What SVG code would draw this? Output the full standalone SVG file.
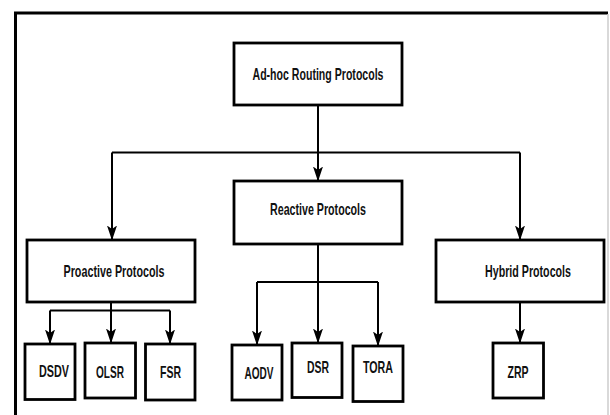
<svg xmlns="http://www.w3.org/2000/svg" width="610" height="415" viewBox="0 0 610 415">
<style>
.box{fill:#fff;stroke:#000;stroke-width:2.8}
.t{font-family:"Liberation Sans",Arial,sans-serif;font-weight:bold;font-size:16.5px;fill:#111;text-anchor:middle}
.c{fill:none;stroke:#000;stroke-width:2}
</style>
<defs>
<marker id="ah" markerWidth="15" markerHeight="11" refX="14.5" refY="5.5" orient="auto" markerUnits="userSpaceOnUse" viewBox="0 0 15 11">
<path d="M0,0.5 L15,5.5 L0,10.5 L3.5,5.5 Z" fill="#000"/>
</marker>
</defs>
<rect x="0" y="0" width="610" height="415" fill="#fff"/>
<path d="M15.5,415 V13 H608" fill="none" stroke="#000" stroke-width="3"/>
<line x1="608" y1="14" x2="608" y2="415" stroke="#ccc" stroke-width="1.5"/>
<g id="connectors">
<path class="c" d="M318,105 V152.5"/>
<path class="c" d="M112,152.5 H520"/>
<path class="c" d="M112,152.5 V240" marker-end="url(#ah)"/>
<path class="c" d="M318,152.5 V181" marker-end="url(#ah)"/>
<path class="c" d="M520,152.5 V240" marker-end="url(#ah)"/>
<path class="c" d="M111,302 V310.5"/>
<path class="c" d="M50,310.5 H170"/>
<path class="c" d="M50,310.5 V344" marker-end="url(#ah)"/>
<path class="c" d="M111,310.5 V343" marker-end="url(#ah)"/>
<path class="c" d="M170,310.5 V344" marker-end="url(#ah)"/>
<path class="c" d="M318,244 V282"/>
<path class="c" d="M257,282 H378"/>
<path class="c" d="M257,282 V345" marker-end="url(#ah)"/>
<path class="c" d="M318,282 V343" marker-end="url(#ah)"/>
<path class="c" d="M378,282 V346" marker-end="url(#ah)"/>
<path class="c" d="M520,302 V343" marker-end="url(#ah)"/>
</g>
<g id="adhoc"><rect class="box" x="234" y="43" width="168" height="62"/><text class="t" x="318" y="80" textLength="131" lengthAdjust="spacingAndGlyphs">Ad-hoc Routing Protocols</text></g>
<g id="reactive"><rect class="box" x="234" y="181" width="168" height="63"/><text class="t" x="318" y="215" textLength="96" lengthAdjust="spacingAndGlyphs">Reactive Protocols</text></g>
<g id="proactive"><rect class="box" x="27" y="240" width="168" height="62"/><text class="t" x="114" y="277" textLength="101" lengthAdjust="spacingAndGlyphs">Proactive Protocols</text></g>
<g id="hybrid"><rect class="box" x="436" y="240" width="168" height="62"/><text class="t" x="528" y="277" textLength="86" lengthAdjust="spacingAndGlyphs">Hybrid Protocols</text></g>
<g id="dsdv"><rect class="box" x="25" y="344" width="50" height="55.5"/><text class="t" x="54" y="377" textLength="30" lengthAdjust="spacingAndGlyphs">DSDV</text></g>
<g id="olsr"><rect class="box" x="85" y="343" width="50.5" height="55"/><text class="t" x="110" y="378" textLength="28" lengthAdjust="spacingAndGlyphs">OLSR</text></g>
<g id="fsr"><rect class="box" x="145.5" y="344" width="49.5" height="56"/><text class="t" x="170.5" y="378" textLength="21" lengthAdjust="spacingAndGlyphs">FSR</text></g>
<g id="aodv"><rect class="box" x="232" y="345" width="50" height="55"/><text class="t" x="259" y="379" textLength="29" lengthAdjust="spacingAndGlyphs">AODV</text></g>
<g id="dsr"><rect class="box" x="292" y="343" width="50" height="54.5"/><text class="t" x="318" y="373" textLength="22" lengthAdjust="spacingAndGlyphs">DSR</text></g>
<g id="tora"><rect class="box" x="353" y="346" width="50" height="55.5"/><text class="t" x="378" y="373" textLength="30" lengthAdjust="spacingAndGlyphs">TORA</text></g>
<g id="zrp"><rect class="box" x="493" y="343" width="50.5" height="55"/><text class="t" x="518" y="378" textLength="21" lengthAdjust="spacingAndGlyphs">ZRP</text></g>
</svg>
